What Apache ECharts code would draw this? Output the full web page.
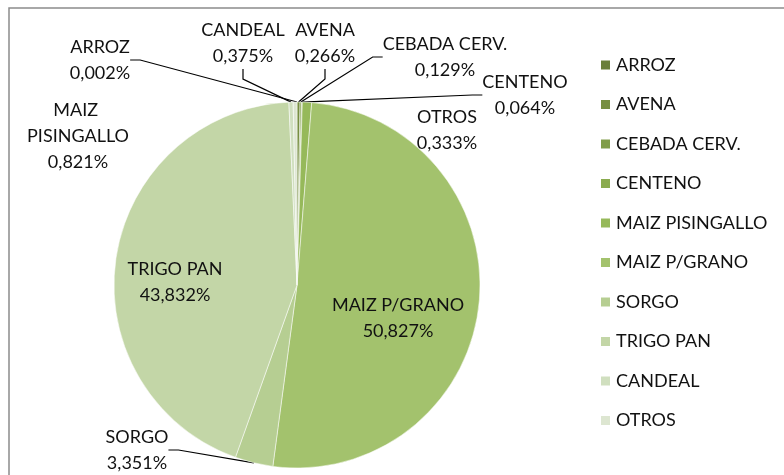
<!DOCTYPE html>
<html>
<head>
<meta charset="utf-8">
<script src="https://cdn.jsdelivr.net/npm/echarts@6/dist/echarts.min.js"></script>
<style>
  html, body { margin: 0; padding: 0; background: #fff; }
  #chart1 { width: 784px; height: 475px; }
</style>
</head>
<body>
<div id="chart1"></div>
<script>
  // data (percent shares)
  const categories = ['ARROZ', 'AVENA', 'CEBADA CERV.', 'CENTENO', 'MAIZ PISINGALLO',
    'MAIZ P/GRANO', 'SORGO', 'TRIGO PAN', 'CANDEAL', 'OTROS'];
  const shares = [0.002, 0.266, 0.129, 0.064, 0.821, 50.827, 3.351, 43.832, 0.375, 0.333];

  const colors = ['#6a7f3b', '#778f42', '#809d48', '#8aab4f', '#96b95a',
    '#a3c26d', '#b6ce92', '#c3d6a7', '#d0dfbf', '#dde6d1'];

  // label centers, placed by hand like in the original sheet
  const labelPos = [[100, 60], [325, 43], [445, 57], [525, 95], [78, 136],
    [398, 318], [137, 450], [175, 282], [243, 43], [447, 130]];
  const noLine = ['MAIZ PISINGALLO', 'OTROS', 'MAIZ P/GRANO', 'TRIGO PAN'];

  const font = 'Lato, "Open Sans", sans-serif';

  let pieData = categories.map(function (c, i) {
    let item = { name: c, value: shares[i], itemStyle: { color: colors[i] } };
    if (noLine.indexOf(c) >= 0) item.labelLine = { show: false };
    if (c === 'MAIZ PISINGALLO') item.label = { width: 110, overflow: 'break' };
    return item;
  });

  let chart1 = echarts.init(document.getElementById('chart1'));
  chart1.setOption({
    backgroundColor: '#fff',
    animation: false,
    graphic: [{
      type: 'rect',
      shape: { x: 9, y: 8, width: 800, height: 500 },
      style: { fill: 'none', stroke: '#8c8c8c', lineWidth: 1.5 },
      silent: true
    }],
    legend: {
      orient: 'vertical',
      left: 594,
      top: 49,
      icon: 'rect',
      itemWidth: 11,
      itemHeight: 11,
      itemGap: 17.5,
      data: categories,
      textStyle: { fontFamily: font, fontSize: 18, color: '#111', lineHeight: 22 }
    },
    series: [{
      type: 'pie',
      center: [297, 285],
      radius: 183,
      startAngle: 90,
      clockwise: true,
      avoidLabelOverlap: false,
      itemStyle: { borderColor: '#fff', borderWidth: 0.5 },
      label: {
        show: true,
        position: 'outside',
        fontFamily: font,
        fontSize: 18,
        color: '#111',
        lineHeight: 26,
        align: 'center',
        formatter: function (p) {
          return p.name + '\n' + p.value.toFixed(3).replace('.', ',') + '%';
        }
      },
      labelLine: {
        show: true,
        length: 10,
        length2: 10,
        lineStyle: { color: '#000', width: 1.2 }
      },
      labelLayout: function (params) {
        let pos = labelPos[params.dataIndex];
        return { x: pos[0], y: pos[1], align: 'center', verticalAlign: 'middle' };
      },
      data: pieData
    }]
  });
</script>
</body>
</html>
